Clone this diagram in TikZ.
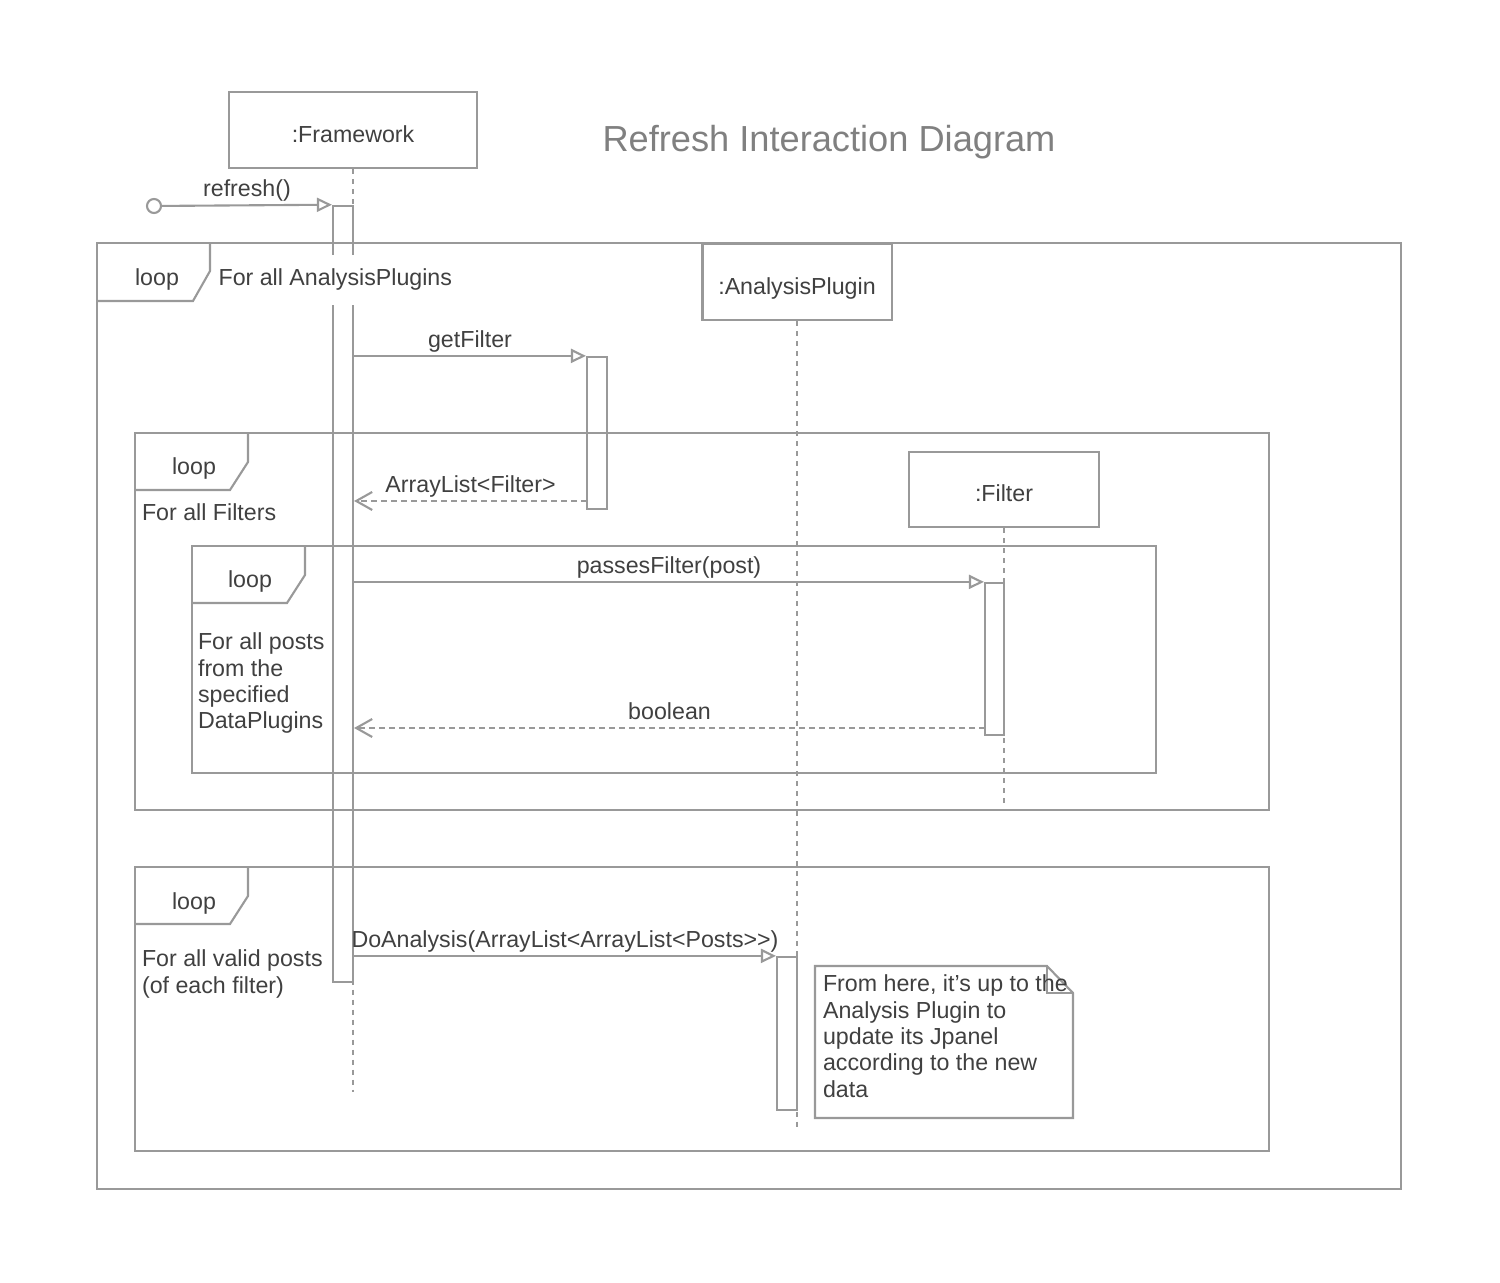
\documentclass[tikz,border=0pt]{standalone}
\usepackage{fontspec}
\setmainfont{Liberation Sans}
\usepackage{tikz}
\usetikzlibrary{arrows.meta,positioning}

\begin{document}
\begin{tikzpicture}[x=0.01cm,y=-0.01cm,line width=0.6pt,color=black!40,text=black!75,font=\fontsize{6.6}{7.5}\selectfont]

        \tikzstyle{object}=[draw,rectangle,inner sep=0pt,text height=7pt,text depth=0pt]
        \tikzstyle{activation}=[draw,rectangle,inner sep=0pt,minimum width=0.2cm]
        \tikzstyle{lifeline}=[dash pattern=on 0.5mm off 0.5mm]
        \tikzstyle{frame}=[draw]
        \tikzstyle{call}=[-{Triangle[length=1.5mm,width=1.4mm,fill=white]}]
        \tikzstyle{reply}=[dash pattern=on 0.6mm off 0.4mm,-{Straight Barb[length=1.6mm,width=1.8mm]}]
        \tikzstyle{msg}=[midway,above,inner sep=0.6pt,text height=4.8pt,text depth=1.5pt]

        \useasboundingbox (0,0) rectangle (1500,1283);

        % loops
        \draw[frame] (97,243) rectangle (1401,1189);
        \draw[frame] (97,301) -- (193,301) -- (210,271) -- (210,243);
        \node (loopA) at (157,280) {loop};

        \draw[frame] (135,433) rectangle (1269,810);
        \draw[frame] (135,490) -- (230,490) -- (248,462) -- (248,433);
        \node (loopB) at (194,469) {loop};
        \node[anchor=west,inner sep=0pt] (condB) at (141,512) {For all Filters};

        \draw[frame] (192,546) rectangle (1156,773);
        \draw[frame] (192,603) -- (287,603) -- (305,575) -- (305,546);
        \node (loopC) at (250,582) {loop};
        \node[anchor=north west,align=left,inner sep=0pt] (condC) at (197,632) {For all posts\\from the\\specified\\DataPlugins};

        \draw[frame] (135,867) rectangle (1269,1151);
        \draw[frame] (135,924) -- (230,924) -- (248,896) -- (248,867);
        \node (loopD) at (194,903) {loop};
        \node[anchor=north west,align=left,inner sep=0pt] (condD) at (141,949) {For all valid posts\\(of each filter)};

        % objects
        \node[text=black!50,font=\fontsize{10.3}{12}\selectfont] (title) at (829,142) {Refresh Interaction Diagram};
        \node[object,minimum width=2.47cm,minimum height=0.76cm] (fw) at (353,130) {:Framework};
        \node[object,fill=white,minimum width=1.89cm,minimum height=0.76cm] (ap) at (797,282) {:AnalysisPlugin};
        \node[object,fill=white,minimum width=1.9cm,minimum height=0.75cm] (flt) at (1004,489.5) {:Filter};

        \coordinate (fwend) at (353,1092);
        \coordinate (apend) at (797,1130);
        \coordinate (fltend) at (1004,808);
        \draw[lifeline] (fw) -- (fwend);
        \draw[lifeline] (ap) -- (apend);
        \draw[lifeline] (flt) -- (fltend);

        % activations
        \node[activation,minimum height=7.76cm] (fwbar) at (343,594) {};
        \node[activation,minimum height=1.52cm] (gfbar) at (597,433) {};
        \node[activation,minimum width=0.19cm,minimum height=1.52cm] (fltbar) at (994.5,659) {};
        \node[activation,minimum height=1.53cm] (apbar) at (787,1033.5) {};

        \node[anchor=west,fill=white,inner xsep=1pt,inner ysep=4pt] (condA) at (214,280) {For all AnalysisPlugins};

        \node[draw,circle,fill=white,minimum size=0.14cm,inner sep=0pt] (init) at (154,206) {};
        \coordinate (ret1) at (587,501);
        \coordinate (ret2) at (985,728);

        % messages
        \path [call] (init) edge node[msg] {refresh()} (fwbar.north west);
        \path [call] (fwbar.east |- gfbar.north west) edge node[msg] {getFilter} (gfbar.north west);
        \path [reply] (ret1) edge node[msg] {ArrayList<Filter>} (fwbar.east |- ret1);
        \path [call] (fwbar.east |- fltbar.north west) edge node[msg] {passesFilter(post)} (fltbar.north west);
        \path [reply] (ret2) edge node[msg] {boolean} (fwbar.east |- ret2);
        \path [call] (fwbar.east |- apbar.north west) edge node[msg] {DoAnalysis(ArrayList<ArrayList<Posts>{}>)} (apbar.north west);

        % note
        \draw[frame,fill=white] (815,966) -- (1047,966) -- (1073,993) -- (1073,1118) -- (815,1118) -- cycle;
        \draw[frame] (1047,966) -- (1047,993) -- (1073,993);
        \node[anchor=north west,align=left,inner sep=0pt] (note) at (822,974) {From here, it's up to the\\Analysis Plugin to\\update its Jpanel\\according to the new\\data};
      \end{tikzpicture}
\end{document}
